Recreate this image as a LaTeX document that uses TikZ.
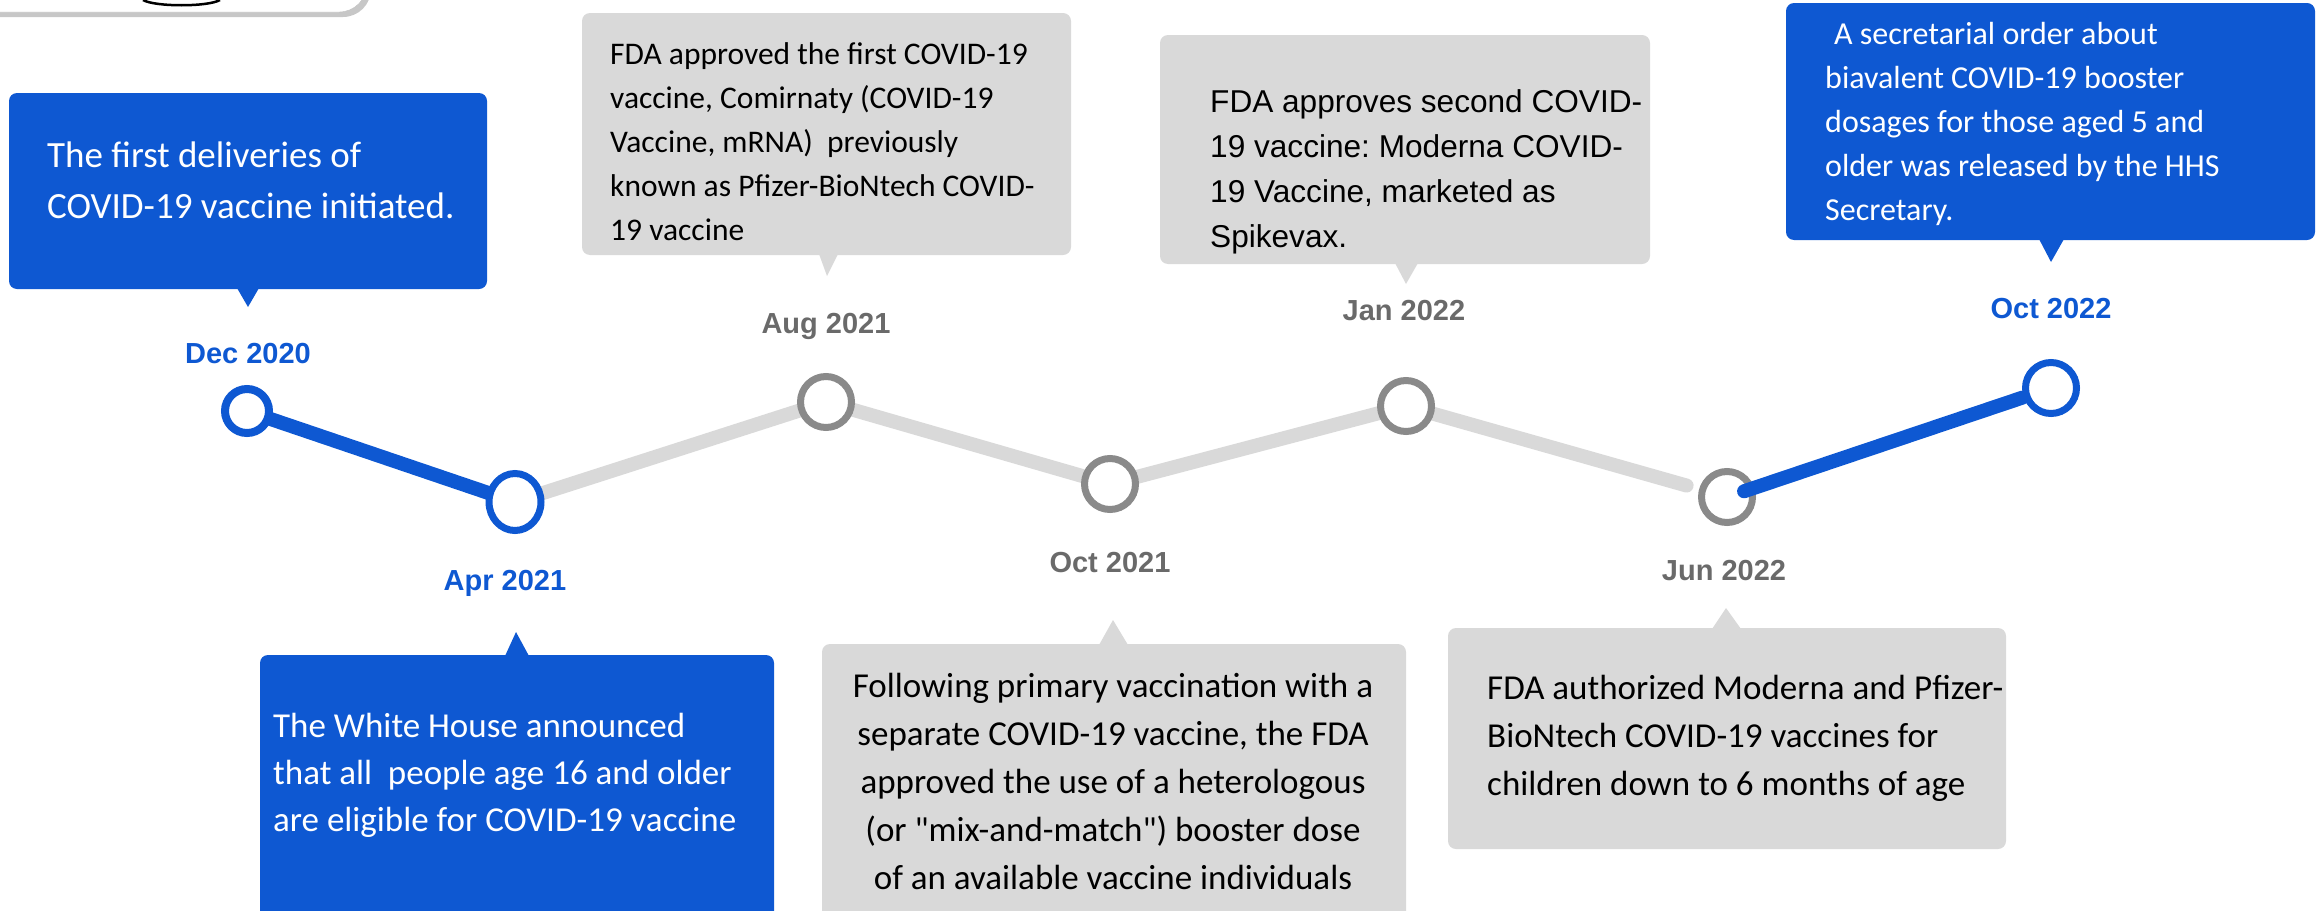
\documentclass[tikz,border=0pt]{standalone}
\usepackage{fontspec}
\setmainfont{Carlito}
\newfontfamily\arialfont{Liberation Sans}
\usetikzlibrary{backgrounds,shapes.geometric}
\definecolor{tlblue}{HTML}{0E58D2}
\definecolor{tlgray}{HTML}{D9D9D9}
\definecolor{ringgray}{HTML}{8A8A8A}
\definecolor{dategray}{HTML}{6A6A6A}
\frenchspacing
\begin{document}
\begin{tikzpicture}[x=1pt,y=-1pt]
\tikzstyle{tlring}=[circle,draw,line width=7pt,fill=white,minimum size=51pt,inner sep=0pt]
\tikzstyle{bluering}=[tlring,draw=tlblue]
\tikzstyle{grayring}=[tlring,draw=ringgray]
\tikzstyle{bluebar}=[line width=14pt,tlblue,line cap=round]
\tikzstyle{graybar}=[line width=14pt,tlgray,line cap=round]
\tikzstyle{datelabel}=[font=\arialfont\bfseries\fontsize{29}{29}\selectfont,anchor=base,inner sep=0pt]
\tikzstyle{bluebox}=[fill=tlblue,rounded corners=8pt]
\tikzstyle{graybox}=[fill=tlgray,rounded corners=8pt]
\tikzstyle{boxtext}=[anchor=base west,inner sep=0pt,align=left]
\useasboundingbox (0,0) rectangle (2323,910);
\clip (0,0) rectangle (2323,910);
% cut-off picture in the corner
\fill[black!22,rounded corners=28pt] (-40,-80) rectangle (371,17);
\filldraw[fill=white,draw=black!25,rounded corners=28pt] (-40,-80) rectangle (367,12);
\draw[line width=2.5pt] (143,0) .. controls (155,7) and (208,7) .. (220,0);
% callout boxes
\fill[bluebox] (9,93) rectangle (487,289);
\fill[tlblue] (237,288) -- (248,307) -- (259,288) -- cycle;
\fill[graybox] (582,13) rectangle (1071,255);
\fill[tlgray] (819,254) -- (827,276) -- (838,254) -- cycle;
\fill[graybox] (1160,35) rectangle (1650,264);
\fill[tlgray] (1395,263) -- (1406,284) -- (1418,263) -- cycle;
\fill[bluebox] (1786,3) rectangle (2315,240);
\fill[tlblue] (2039,239) -- (2051,262) -- (2064,239) -- cycle;
\fill[bluebox] (260,655) rectangle (774,940);
\fill[tlblue] (505,656) -- (516,632) -- (529,656) -- cycle;
\fill[graybox] (822,644) rectangle (1406,940);
\fill[tlgray] (1099,645) -- (1113,620) -- (1128,645) -- cycle;
\fill[graybox] (1448,628) rectangle (2006,849);
\fill[tlgray] (1712,629) -- (1726,608) -- (1741,629) -- cycle;
% texts (placed at the baseline of the last line)
\node[boxtext,white,font=\fontsize{37}{51}\selectfont] (dectext) at (47,218) {The first deliveries of\\COVID-19 vaccine initiated.};
\node[boxtext,font=\fontsize{31.5}{44}\selectfont] (augtext) at (610,240) {FDA approved the first COVID-19\\vaccine, Comirnaty (COVID-19\\Vaccine, mRNA)\ \ previously\\known as Pfizer-BioNtech COVID-\\19 vaccine};
\node[boxtext,font=\arialfont\fontsize{31.6}{45}\selectfont] (jantext) at (1210,247) {FDA approves second COVID-\\19 vaccine: Moderna COVID-\\19 Vaccine, marketed as\\Spikevax.};
\node[boxtext,white,font=\fontsize{32}{44}\selectfont] (oct22text) at (1825,220) {\hspace{9pt}A secretarial order about\\biavalent COVID-19 booster\\dosages for those aged 5 and\\older was released by the HHS\\Secretary.};
\node[boxtext,white,font=\fontsize{35}{47}\selectfont] (aprtext) at (273,831) {The White House announced\\that all\ \ people age 16 and older\\are eligible for COVID-19 vaccine};
\node[anchor=base,inner sep=0pt,align=center,font=\fontsize{35}{48}\selectfont] (oct21text) at (1113,889) {Following primary vaccination with a\\separate COVID-19 vaccine, the FDA\\approved the use of a heterologous\\(or \textquotedbl mix-and-match\textquotedbl) booster dose\\of an available vaccine individuals};
\node[boxtext,font=\fontsize{35}{48}\selectfont] (juntext) at (1487,795) {FDA authorized Moderna and Pfizer-\\BioNtech COVID-19 vaccines for\\children down to 6 months of age};
% dates
\node[datelabel,tlblue] (decdate) at (248,363) {Dec 2020};
\node[datelabel,tlblue] (aprdate) at (505,590) {Apr 2021};
\node[datelabel,dategray] (augdate) at (826,333) {Aug 2021};
\node[datelabel,dategray] (oct21date) at (1110,572) {Oct 2021};
\node[datelabel,dategray] (jandate) at (1404,320) {Jan 2022};
\node[datelabel,dategray] (jundate) at (1724,580) {Jun 2022};
\node[datelabel,tlblue] (oct22date) at (2051,318) {Oct 2022};
% timeline
\node[bluering,minimum size=44pt,line width=8pt] (dec) at (247,411) {};
\node[bluering,ellipse,minimum width=52pt,minimum height=57pt] (apr) at (515,502) {};
\node[grayring] (aug) at (826,402) {};
\node[grayring] (oct21) at (1110,484) {};
\node[grayring] (jan) at (1406,406) {};
\node[grayring] (jun) at (1727,497) {};
\node[bluering] (oct22) at (2051,388) {};
\begin{pgfonlayer}{background}
\draw[bluebar] (dec.center) -- (apr.center);
\draw[graybar] (apr.center) -- (aug.center);
\draw[graybar] (aug.center) -- (oct21.center);
\draw[graybar] (oct21.center) -- (jan.center);
\draw[graybar,shorten >=42pt] (jan.center) -- (jun.center);
\end{pgfonlayer}
\draw[bluebar,shorten <=18pt,shorten >=30pt] (jun.center) -- (oct22.center);
\end{tikzpicture}
\end{document}
